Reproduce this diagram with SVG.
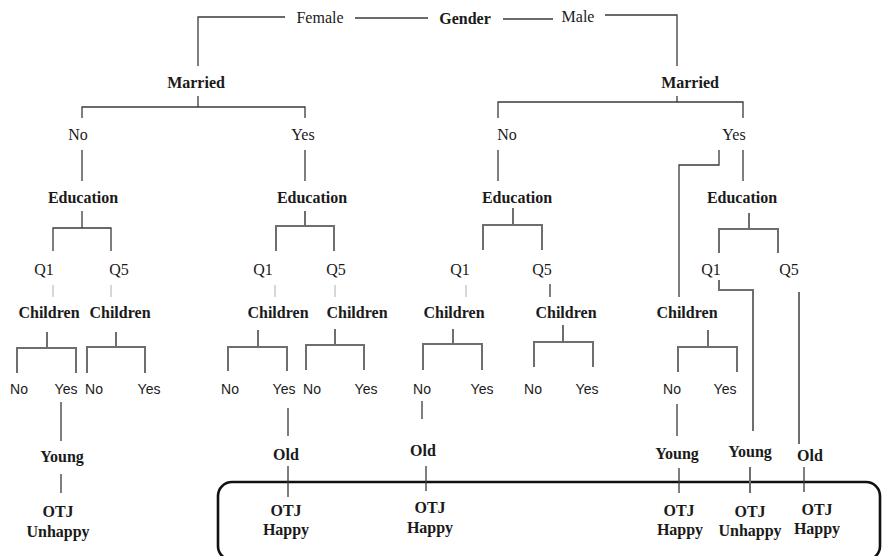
<svg xmlns="http://www.w3.org/2000/svg" width="883" height="556" viewBox="0 0 883 556">
  <style>
    .lbl { font-family: "Liberation Serif", "Times New Roman", serif; font-size: 16px; fill: #1a1a1a; text-anchor: middle; }
    .b { font-weight: bold; }
    .sans { font-family: "Liberation Sans", Arial, sans-serif; font-size: 14px; fill: #1a1a1a; text-anchor: middle; }
    .ln { fill: none; stroke: #3a3a3a; stroke-width: 1.3; }
    .br { fill: none; stroke: #6e6e6e; stroke-width: 2; }
    .lt { fill: none; stroke: #b0b0b0; stroke-width: 1; }
    .box { fill: none; stroke: #111; stroke-width: 2.6; }
  </style>

  <rect width="883" height="556" fill="#ffffff"/>

  <!-- highlight frame around the happy outcomes -->
  <rect class="box" x="218" y="482" width="662" height="78" rx="14"/>

  <g id="connectors">
    <!-- root -->
    <path class="ln" d="M285 17 H198 V66"/>
    <path class="ln" d="M355 18 H428"/>
    <path class="ln" d="M503 19 H553"/>
    <path class="ln" d="M605 15 H677 V66"/>
    <!-- married (female) -->
    <path class="ln" d="M198 96 V107 M82 118 V107 H305 V118"/>
    <path class="ln" d="M82 150 V181 M305 150 V181"/>
    <!-- married (male) -->
    <path class="ln" d="M677 96 V102 M498 118 V102 H743 V118"/>
    <path class="ln" d="M498 150 V181 M743 150 V181"/>
    <path class="ln" d="M719 150 V165 H679 V297"/>
    <!-- education brackets -->
    <path class="ln" d="M82 211 V228 M53 251 V228 H111 V251"/>
    <path class="br" d="M305 211 V226 M276 251 V226 H334 V251"/>
    <path class="br" d="M513 208 V225 M483 250 V225 H542 V250"/>
    <path class="br" d="M749 213 V229 M719 253 V229 H778 V253"/>
    <!-- Q to children -->
    <path class="lt" d="M53 285 V297 M111 285 V297"/>
    <path class="lt" d="M275 285 V297 M335 285 V297"/>
    <path class="lt" d="M466 285 V297"/>
    <path class="ln" d="M550 284 V297"/>
    <path class="br" d="M719 280 V290 H753 V431"/>
    <path class="br" d="M799 292 V444"/>
    <!-- children brackets -->
    <path class="br" d="M47 332 V348 M17 373 V348 H76 V373"/>
    <path class="br" d="M116 332 V347 M87 373 V347 H145 V373"/>
    <path class="br" d="M258 330 V347 M228 371 V347 H287 V371"/>
    <path class="br" d="M335 329 V345 M306 370 V345 H364 V370"/>
    <path class="br" d="M453 329 V344 M423 370 V344 H482 V370"/>
    <path class="br" d="M563 325 V342 M534 367 V342 H593 V367"/>
    <path class="br" d="M708 330 V347 M678 372 V347 H737 V372"/>
    <!-- leaves -->
    <path class="ln" d="M61 402 V441 M61 474 V493"/>
    <path class="ln" d="M288 408 V436 M288 466 V497"/>
    <path class="ln" d="M422 401 V419 M426 466 V491"/>
    <path class="ln" d="M677 404 V436 M679 468 V493"/>
    <path class="br" d="M750 467 V493"/>
    <path class="ln" d="M804 467 V492"/>
  </g>

  <g id="gender"><text class="lbl b" x="465" y="24">Gender</text></g>
  <g id="female"><text class="lbl" x="320" y="23">Female</text></g>
  <g id="male"><text class="lbl" x="578" y="22">Male</text></g>

  <g id="married-f"><text class="lbl b" x="196" y="88">Married</text></g>
  <g id="married-m"><text class="lbl b" x="690" y="88">Married</text></g>

  <g id="f-no"><text class="lbl" x="78" y="140">No</text></g>
  <g id="f-yes"><text class="lbl" x="303" y="140">Yes</text></g>
  <g id="m-no"><text class="lbl" x="507" y="140">No</text></g>
  <g id="m-yes"><text class="lbl" x="734" y="140">Yes</text></g>

  <g id="edu-1"><text class="lbl b" x="83" y="203">Education</text></g>
  <g id="edu-2"><text class="lbl b" x="312" y="203">Education</text></g>
  <g id="edu-3"><text class="lbl b" x="517" y="203">Education</text></g>
  <g id="edu-4"><text class="lbl b" x="742" y="203">Education</text></g>

  <g id="q-1a"><text class="lbl" x="44" y="275">Q1</text></g>
  <g id="q-1b"><text class="lbl" x="119" y="275">Q5</text></g>
  <g id="q-2a"><text class="lbl" x="263" y="275">Q1</text></g>
  <g id="q-2b"><text class="lbl" x="336" y="275">Q5</text></g>
  <g id="q-3a"><text class="lbl" x="460" y="275">Q1</text></g>
  <g id="q-3b"><text class="lbl" x="542" y="275">Q5</text></g>
  <g id="q-4a"><text class="lbl" x="711" y="275">Q1</text></g>
  <g id="q-4b"><text class="lbl" x="789" y="275">Q5</text></g>

  <g id="ch-1"><text class="lbl b" x="49" y="318">Children</text></g>
  <g id="ch-2"><text class="lbl b" x="120" y="318">Children</text></g>
  <g id="ch-3"><text class="lbl b" x="278" y="318">Children</text></g>
  <g id="ch-4"><text class="lbl b" x="357" y="318">Children</text></g>
  <g id="ch-5"><text class="lbl b" x="454" y="318">Children</text></g>
  <g id="ch-6"><text class="lbl b" x="566" y="318">Children</text></g>
  <g id="ch-7"><text class="lbl b" x="687" y="318">Children</text></g>

  <g id="c-1n"><text class="sans" x="19" y="394">No</text></g>
  <g id="c-1y"><text class="sans" x="66" y="394">Yes</text></g>
  <g id="c-2n"><text class="sans" x="94" y="394">No</text></g>
  <g id="c-2y"><text class="sans" x="149" y="394">Yes</text></g>
  <g id="c-3n"><text class="sans" x="230" y="394">No</text></g>
  <g id="c-3y"><text class="sans" x="284" y="394">Yes</text></g>
  <g id="c-4n"><text class="sans" x="312" y="394">No</text></g>
  <g id="c-4y"><text class="sans" x="366" y="394">Yes</text></g>
  <g id="c-5n"><text class="sans" x="422" y="394">No</text></g>
  <g id="c-5y"><text class="sans" x="482" y="394">Yes</text></g>
  <g id="c-6n"><text class="sans" x="533" y="394">No</text></g>
  <g id="c-6y"><text class="sans" x="587" y="394">Yes</text></g>
  <g id="c-7n"><text class="sans" x="672" y="394">No</text></g>
  <g id="c-7y"><text class="sans" x="725" y="394">Yes</text></g>

  <g id="age-1"><text class="lbl b" x="62" y="462">Young</text></g>
  <g id="age-2"><text class="lbl b" x="286" y="460">Old</text></g>
  <g id="age-3"><text class="lbl b" x="423" y="456">Old</text></g>
  <g id="age-4"><text class="lbl b" x="677" y="459">Young</text></g>
  <g id="age-5"><text class="lbl b" x="750" y="457">Young</text></g>
  <g id="age-6"><text class="lbl b" x="810" y="461">Old</text></g>

  <g id="otj-1"><text class="lbl b" x="58" y="517">OTJ</text><text class="lbl b" x="58" y="537">Unhappy</text></g>
  <g id="otj-2"><text class="lbl b" x="286" y="516">OTJ</text><text class="lbl b" x="286" y="535">Happy</text></g>
  <g id="otj-3"><text class="lbl b" x="430" y="513">OTJ</text><text class="lbl b" x="430" y="533">Happy</text></g>
  <g id="otj-4"><text class="lbl b" x="679" y="516">OTJ</text><text class="lbl b" x="680" y="535">Happy</text></g>
  <g id="otj-5"><text class="lbl b" x="750" y="517">OTJ</text><text class="lbl b" x="750" y="536">Unhappy</text></g>
  <g id="otj-6"><text class="lbl b" x="817" y="515">OTJ</text><text class="lbl b" x="817" y="534">Happy</text></g>
</svg>
